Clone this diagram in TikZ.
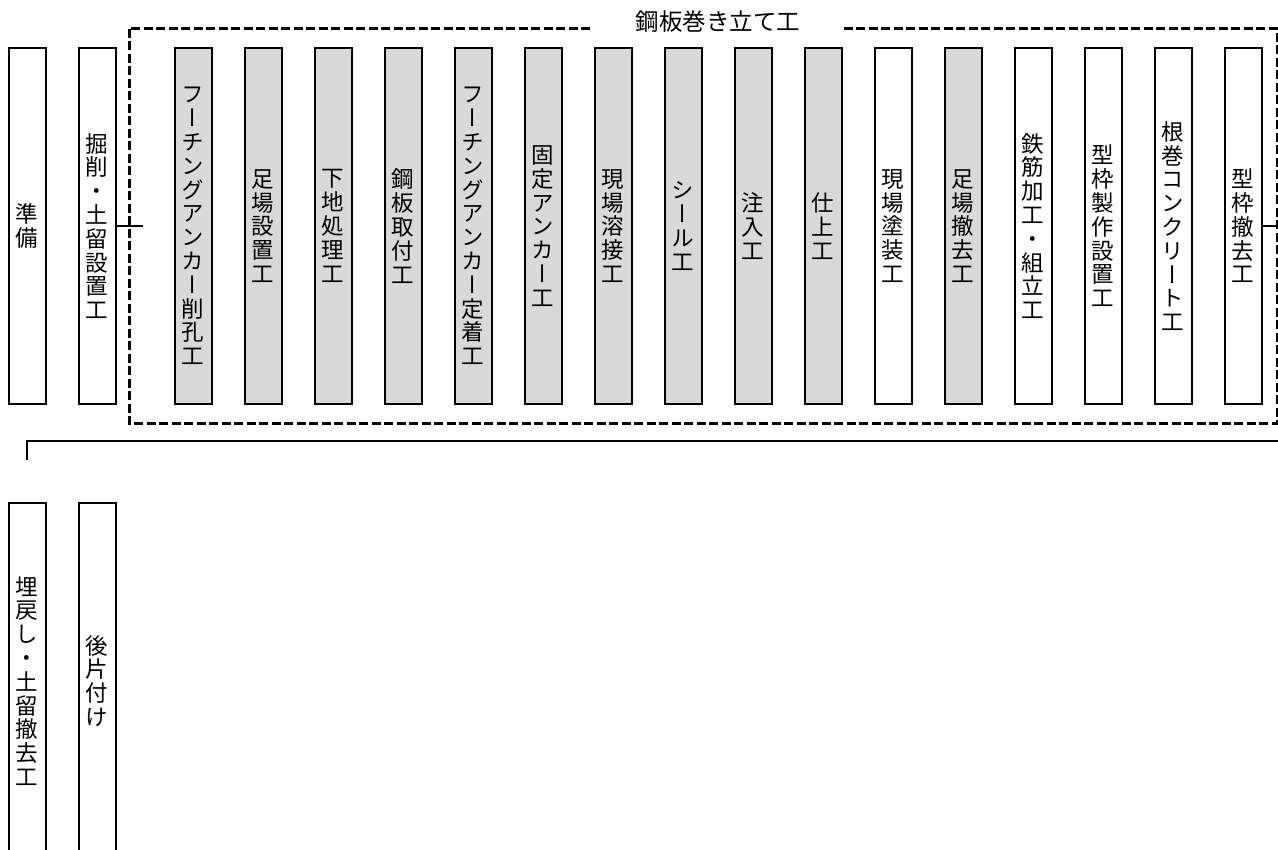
\documentclass[tikz,border=0pt]{standalone}
\usepackage{fontspec}
\usepackage{tikz}
\usetikzlibrary{positioning}

\newfontfamily\jpfont{Noto Sans CJK JP}
\newfontfamily\jpvfont{Noto Sans CJK JP}[RawFeature=+vert]

% stack the characters of a label one under another
\let\tateend\relax
\newcommand\tate[1]{\vbox{\baselineskip=23.8pt\lineskiplimit=-100pt\tateA#1\tateend}}
\def\tateA#1{\ifx\tateend#1\else\hbox to 1em{\hss#1\hss}\expandafter\tateA\fi}

\begin{document}
\begin{tikzpicture}[
  x=1pt, y=-1pt,
  font=\jpvfont\fontsize{22.5}{23.8}\selectfont,
  node distance=31pt,
  task/.style={draw, line width=2pt, minimum width=37pt, minimum height=356pt,
               inner sep=0pt, fill=white},
  steel/.style={task, fill=black!15},
  link/.style={line width=1.5pt},
  group/.style={draw, line width=3pt, dash pattern=on 9pt off 3.5pt}
]
  \useasboundingbox (0,0) rectangle (1278,850);

  \draw[group] (129,29) rectangle (1277,424);
  \node[fill=white, minimum width=250pt, minimum height=24pt, inner sep=0pt,
        font=\jpfont\fontsize{23.5}{24}\selectfont] (title) at (718,22) {鋼板巻き立て工};

  \node[task] (prep) at (27,226) {\tate{準備}};
  \node[task, right=of prep] (dig) {\tate{掘削・土留設置工}};
  \node[steel, right=57pt of dig] (drill) {\tate{フーチングアンカー削孔工}};
  \node[steel, right=of drill] (scaffold) {\tate{足場設置工}};
  \node[steel, right=of scaffold] (surface) {\tate{下地処理工}};
  \node[steel, right=of surface] (plate) {\tate{鋼板取付工}};
  \node[steel, right=of plate] (anchorset) {\tate{フーチングアンカー定着工}};
  \node[steel, right=of anchorset] (fixanchor) {\tate{固定アンカー工}};
  \node[steel, right=of fixanchor] (weld) {\tate{現場溶接工}};
  \node[steel, right=of weld] (seal) {\tate{シール工}};
  \node[steel, right=of seal] (inject) {\tate{注入工}};
  \node[steel, right=of inject] (finish) {\tate{仕上工}};
  \node[task, right=of finish] (paint) {\tate{現場塗装工}};
  \node[steel, right=of paint] (unscaffold) {\tate{足場撤去工}};
  \node[task, right=of unscaffold] (rebar) {\tate{鉄筋加工・組立工}};
  \node[task, right=of rebar] (formwork) {\tate{型枠製作設置工}};
  \node[task, right=of formwork] (rootconc) {\tate{根巻コンクリート工}};
  \node[task, right=of rootconc] (formout) {\tate{型枠撤去工}};

  \node[task] (backfill) at (27,681) {\tate{埋戻し・土留撤去工}};
  \node[task, right=of backfill] (cleanup) {\tate{後片付け}};

  \coordinate (stubA) at (143,226);
  \coordinate (stubB) at (1282,226);
  \coordinate (turnR) at (1282,441);
  \coordinate (turnL) at (27,441);
  \coordinate (stubC) at (27,460);

  \draw[link] (dig.east) -- (stubA);
  \draw[link] (formout.east) -- (stubB);
  \draw[link] (turnR) -- (turnL) -- (stubC);
\end{tikzpicture}
\end{document}
